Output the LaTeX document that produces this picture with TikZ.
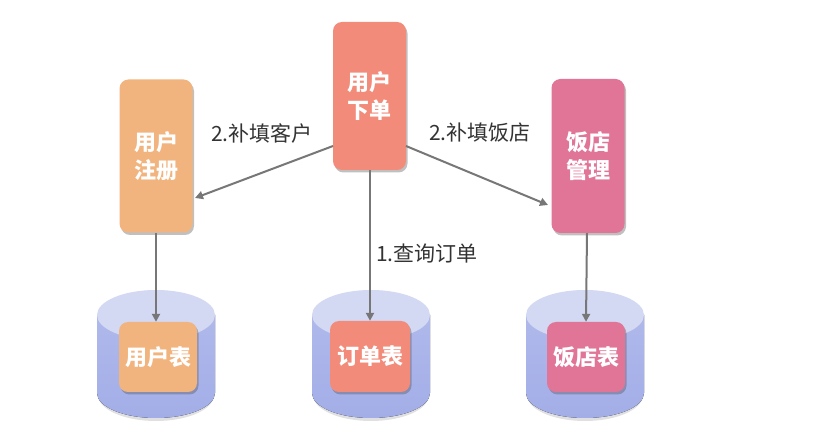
\documentclass[tikz,border=0pt]{standalone}
\usepackage{fontspec}
\setmainfont{Noto Sans CJK SC}
\usetikzlibrary{shadows,arrows.meta}
\definecolor{cOrange}{HTML}{F2B47E}
\definecolor{cSalmon}{HTML}{F28B7A}
\definecolor{cPink}{HTML}{E07598}
\definecolor{cylTop}{HTML}{D3D8F3}
\definecolor{cylBody}{HTML}{A3AEE8}
\definecolor{arr}{HTML}{777777}
\tikzset{
  box/.style={rounded corners=9pt, draw=none, text=white, font=\bfseries\fontsize{22}{28}\selectfont, align=center, inner sep=0pt,
    drop shadow={shadow xshift=1.5pt, shadow yshift=-2.5pt, opacity=0.35, fill=black!70}},
  conn/.style={draw=arr, line width=2pt, -{Triangle[length=8pt,width=8pt]}},
  lbl/.style={text=black!80, font=\fontsize{21}{25}\selectfont, inner sep=0pt},
}
\newcommand{\cyl}[2]{%
  \fill[black, opacity=0.12] (#1-58,#2-78) -- (#1-58,#2+2) arc[start angle=180,end angle=0,x radius=58,y radius=26] -- (#1+58,#2-78) -- cycle;
  \fill[top color=cylBody!75!cylTop, bottom color=cylBody] (#1-59,#2-78) -- (#1-59,#2) arc[start angle=180,end angle=0,x radius=59,y radius=25] -- (#1+59,#2-78) -- cycle;
  \fill[cylTop] (#1,#2-78) ellipse[x radius=59, y radius=25];
}
\begin{document}
\begin{tikzpicture}[x=1pt,y=-1pt]
\useasboundingbox (0,0) rectangle (815,446);
\fill[white] (0,0) rectangle (815,446);
\cyl{156}{393}
\cyl{371}{393}
\cyl{585}{393}
\node[box, fill=cSalmon, minimum width=73pt, minimum height=148pt] (order) at (369.5,96) {用户\\下单};
\node[box, fill=cOrange, minimum width=73pt, minimum height=153pt] (reg) at (156,156) {用户\\注册};
\node[box, fill=cPink, minimum width=73pt, minimum height=154pt] (rest) at (588,156) {饭店\\管理};
\node[box, fill=cOrange, minimum width=78pt, minimum height=70pt] (utab) at (158,357) {用户表};
\node[box, fill=cSalmon, minimum width=80pt, minimum height=71pt] (otab) at (370,356.5) {订单表};
\node[box, fill=cPink, minimum width=78pt, minimum height=70pt] (rtab) at (586,357) {饭店表};
\coordinate (oL) at (333,146);
\coordinate (oR) at (406,146);
\coordinate (oB) at (370,170);
\coordinate (rL) at (195,198);
\coordinate (sR) at (548,205);
\draw[conn] (oL) -- (rL);
\draw[conn] (oR) -- (sR);
\draw[conn] (oB) -- (otab.north);
\draw[conn] (reg.south -| 156,0) -- (utab.north -| 156,0);
\draw[conn] (rest.south -| 587,0) -- (rtab.north -| 586,0);
\node[lbl] (l1) at (262,133) {2.补填客户};
\node[lbl] (l2) at (480,133) {2.补填饭店};
\node[lbl] (l3) at (427,254) {1.查询订单};
\end{tikzpicture}
\end{document}
